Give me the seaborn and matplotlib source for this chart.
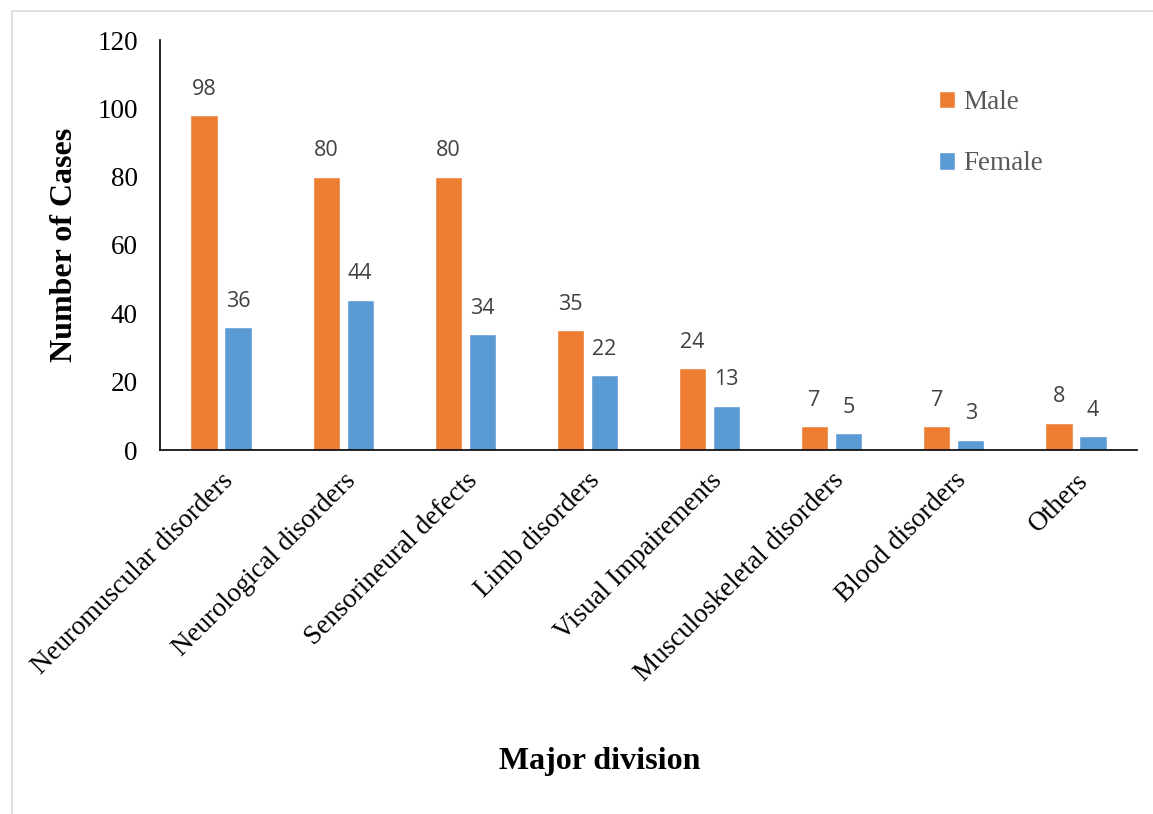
import matplotlib
matplotlib.use("Agg")
import matplotlib.pyplot as plt
import seaborn as sns
import pandas as pd
from matplotlib.patches import Rectangle

categories = ["Neuromuscular disorders", "Neurological disorders", "Sensorineural defects",
              "Limb disorders", "Visual Impairements", "Musculoskeletal disorders",
              "Blood disorders", "Others"]
male = [98, 80, 80, 35, 24, 7, 7, 8]
female = [36, 44, 34, 22, 13, 5, 3, 4]
series = ["Male", "Female"]
colors = ["#ED7D31", "#5B9BD5"]
yticks = [0, 20, 40, 60, 80, 100, 120]

df = pd.DataFrame({
    "Major division": categories * 2,
    "Cases": male + female,
    "Sex": ["Male"] * len(categories) + ["Female"] * len(categories),
})

sns.set_theme(style="white")
plt.rcParams["font.family"] = ["Liberation Serif", "DejaVu Serif"]
plt.rcParams["text.color"] = "black"
plt.rcParams["axes.labelcolor"] = "black"

fig = plt.figure(figsize=(11.53, 8.14), dpi=100)
ax = fig.add_axes([160 / 1153, 1 - 450 / 814, (1137 - 160) / 1153, 410 / 814])

sns.barplot(data=df, x="Major division", y="Cases", hue="Sex", hue_order=series,
            palette=colors, width=0.557, gap=0.2, saturation=1, ax=ax, legend=True)

# value labels above each bar
for container in ax.containers:
    ax.bar_label(container, fmt="%d", padding=11, fontsize=15.5, color="#404040",
                 family="Open Sans")

ax.set_ylim(0, 120)
ax.set_xlim(-0.5, len(categories) - 0.5)
ax.set_yticks(yticks)
ax.tick_params(axis="y", labelsize=19.5, length=0, pad=16, colors="black")
ax.tick_params(axis="x", labelsize=19.5, length=0, pad=13, colors="black")
plt.setp(ax.get_xticklabels(), rotation=45, ha="right", rotation_mode="anchor")

for side in ["top", "right"]:
    ax.spines[side].set_visible(False)
for side in ["left", "bottom"]:
    ax.spines[side].set_color("black")
    ax.spines[side].set_linewidth(1.2)

ax.set_ylabel("Number of Cases", fontsize=23, fontweight="bold", labelpad=13)
ax.set_xlabel("")
fig.text(600 / 1153, 1 - 762 / 814, "Major division", fontsize=23, fontweight="bold",
         ha="center", va="center")

leg = ax.legend(loc="upper left", bbox_to_anchor=(0.772, 0.937), frameon=False,
                fontsize=19.5, handlelength=0.6, handleheight=0.6, handletextpad=0.3,
                labelspacing=1.34, labelcolor="#595959")

# light chart-area border
fig.patches.append(Rectangle((12 / 1153, -0.05), 1.2, 1.05 - 11 / 814,
                             transform=fig.transFigure, fill=False,
                             edgecolor="#D9D9D9", linewidth=1.2))

fig.savefig("out.png", dpi=100)
